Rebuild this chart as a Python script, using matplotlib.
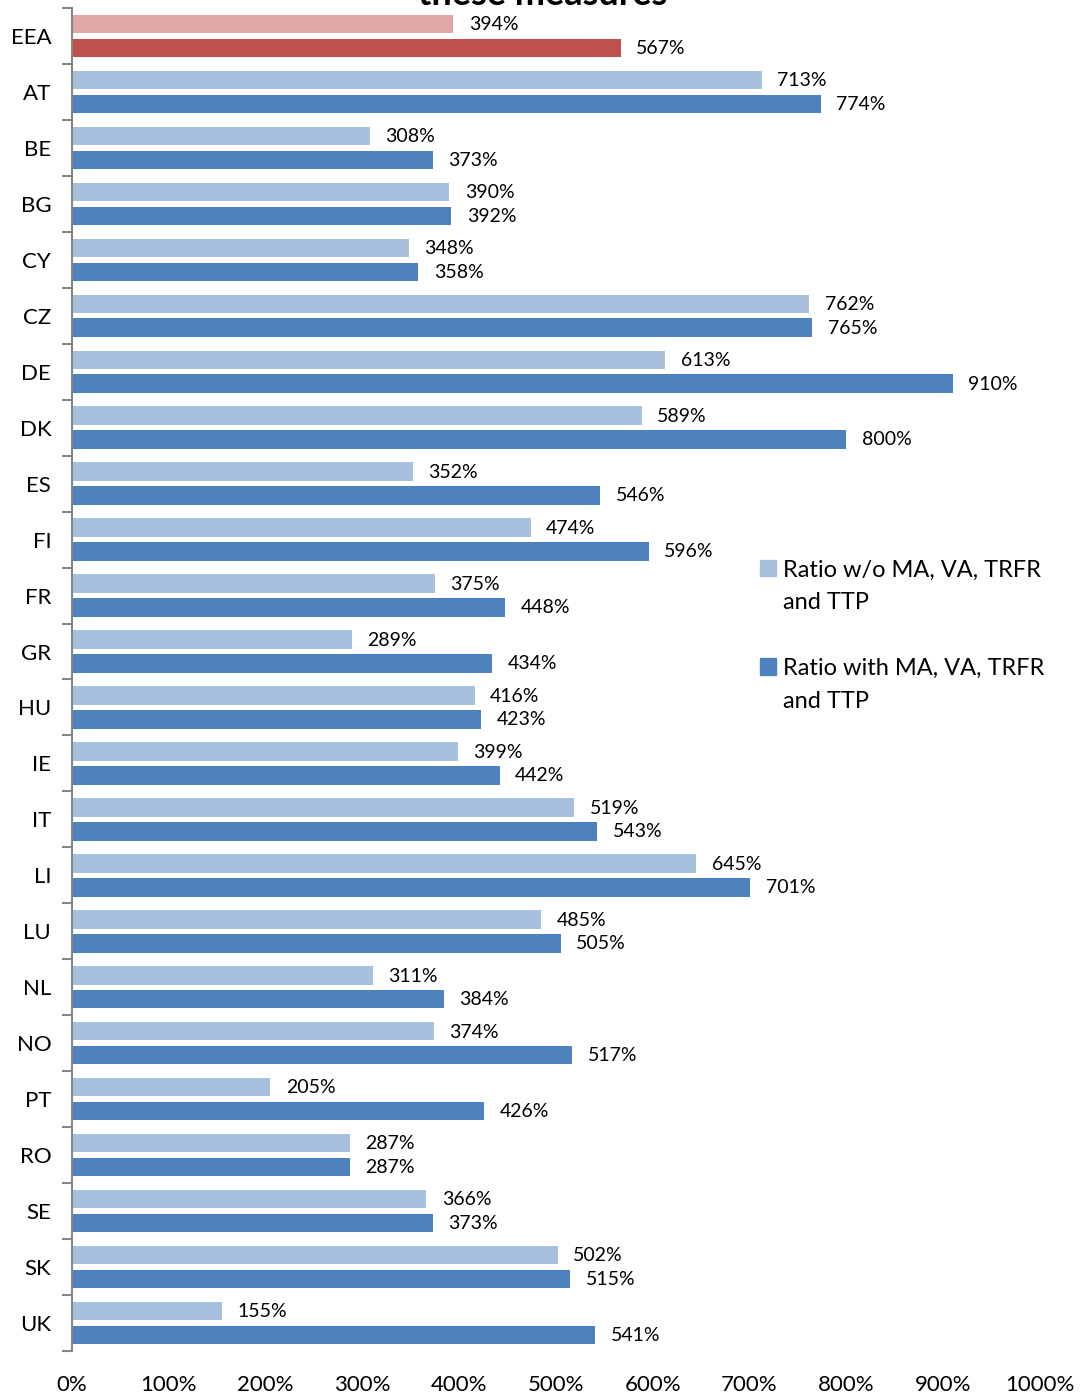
import numpy as np
import matplotlib
matplotlib.use("Agg")
import matplotlib.pyplot as plt
from matplotlib.patches import Patch

plt.rcParams['font.family'] = ['Lato', 'DejaVu Sans']

paises = ['EEA', 'AT', 'BE', 'BG', 'CY', 'CZ', 'DE', 'DK', 'ES', 'FI', 'FR', 'GR',
          'HU', 'IE', 'IT', 'LI', 'LU', 'NL', 'NO', 'PT', 'RO', 'SE', 'SK', 'UK']
ratio_sin = [394, 713, 308, 390, 348, 762, 613, 589, 352, 474, 375, 289,
             416, 399, 519, 645, 485, 311, 374, 205, 287, 366, 502, 155]
ratio_con = [567, 774, 373, 392, 358, 765, 910, 800, 546, 596, 448, 434,
             423, 442, 543, 701, 505, 384, 517, 426, 287, 373, 515, 541]
etiquetas_x = ['0%', '100%', '200%', '300%', '400%', '500%', '600%', '700%',
               '800%', '900%', '1000%']

azul_claro = '#A7C0DE'
azul = '#4F81BD'
rojo_claro = '#DFA7A6'
rojo = '#C0504D'

fig = plt.figure(figsize=(10.86, 14), dpi=100)
ax = fig.add_axes([0.0663, 0.035, 0.891, 0.9593])

y = np.arange(len(paises))
alto = 0.33
col_sin = [rojo_claro] + [azul_claro] * (len(paises) - 1)
col_con = [rojo] + [azul] * (len(paises) - 1)

ax.barh(y - 0.214, ratio_sin, height=alto, color=col_sin)
ax.barh(y + 0.214, ratio_con, height=alto, color=col_con)

for i in range(len(paises)):
    ax.text(ratio_sin[i] + 16, y[i] - 0.2, f"{ratio_sin[i]}%", va='center',
            ha='left', fontsize=14)
    ax.text(ratio_con[i] + 16, y[i] + 0.22, f"{ratio_con[i]}%", va='center',
            ha='left', fontsize=14)

ax.set_xlim(0, 1000)
ax.set_ylim(len(paises) - 0.5, -0.5)
ax.set_xticks(np.arange(0, 1001, 100))
ax.set_xticklabels(etiquetas_x, fontsize=16)
ax.tick_params(axis='x', length=0, pad=17)

# marcas de categoria en los limites
ax.set_yticks(np.arange(-0.5, len(paises), 1))
ax.set_yticklabels([])
ax.tick_params(axis='y', which='major', length=7, width=1.5, color='#868686')
ax.set_yticks(y, minor=True)
ax.set_yticklabels(paises, minor=True, fontsize=16)
ax.tick_params(axis='y', which='minor', length=0, pad=15)

for lado in ['top', 'right', 'bottom']:
    ax.spines[lado].set_visible(False)
ax.spines['left'].set_color('#868686')
ax.spines['left'].set_linewidth(1.5)

fig.text(0.5, 1.004, 'these measures', ha='center', va='center',
         fontsize=26, fontweight='bold')

# leyenda: cada linea como entrada, con huecos invisibles
vacio = Patch(color='none')
manejadores = [Patch(color=azul_claro), vacio, vacio,
               Patch(color=azul), vacio]
textos = ['Ratio w/o MA, VA, TRFR', 'and TTP', ' ',
          'Ratio with MA, VA, TRFR', 'and TTP']
fig.legend(manejadores, textos, loc='upper left',
           bbox_to_anchor=(0.691, 1 - 550 / 1400), frameon=False, fontsize=17,
           handlelength=0.7, handleheight=0.7, handletextpad=0.3,
           labelspacing=0.5, borderaxespad=0)

fig.savefig('out.png', dpi=100)
